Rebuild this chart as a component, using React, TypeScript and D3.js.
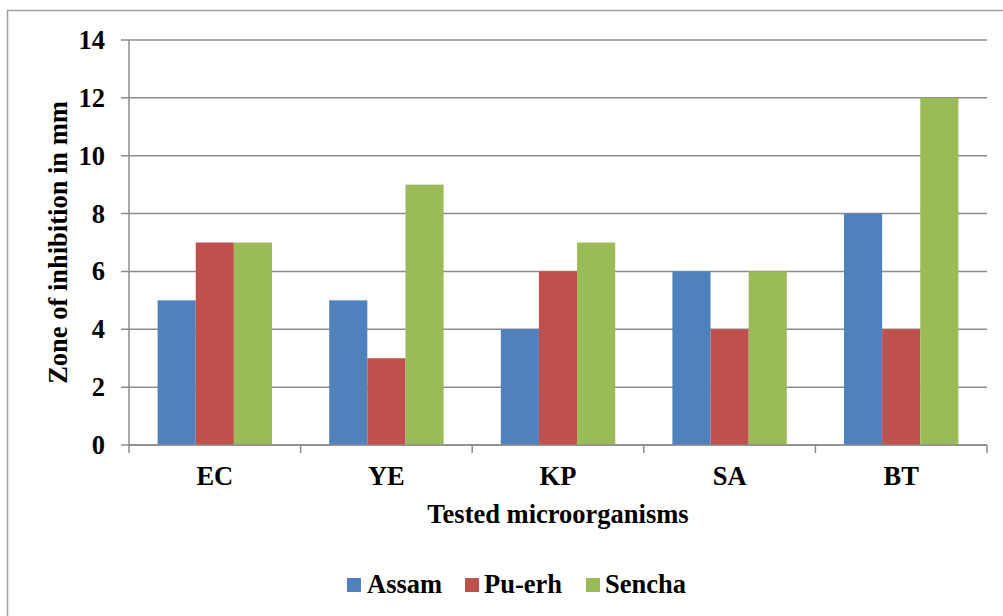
import React from "react";
import * as d3 from "d3";

const categories = ["EC", "YE", "KP", "SA", "BT"];
const seriesNames = ["Assam", "Pu-erh", "Sencha"];
const assam = [5, 5, 4, 6, 8];
const puerh = [7, 3, 6, 4, 4];
const sencha = [7, 9, 7, 6, 12];
const yTicks = [0, 2, 4, 6, 8, 10, 12, 14];
const colors = ["#4F81BD", "#C0504D", "#9BBB59"];

const W = 1003;
const H = 616;
const FONT = "'Liberation Serif', 'Times New Roman', serif";

export default function App() {
  const series = [assam, puerh, sencha];
  const left = 129;
  const right = 987;
  const top = 40;
  const bottom = 445;
  const x = d3.scaleBand<string>().domain(categories).range([left, right]).paddingInner(0).paddingOuter(0);
  const y = d3.scaleLinear().domain([0, 14]).range([bottom, top]);
  const bw = x.bandwidth();
  const barW = bw / (3 + 1.5);
  const gap = (bw - 3 * barW) / 2;

  const legendItems = [
    { name: seriesNames[0], sx: 347, tx: 367 },
    { name: seriesNames[1], sx: 465, tx: 484 },
    { name: seriesNames[2], sx: 586, tx: 605 },
  ];

  const ts = { fontFamily: FONT, fontWeight: 700 as const, fontSize: "26.5px" };

  return (
    <svg width={W} height={H} style={{ position: "absolute", left: 0, top: 0 }}>
      <rect x={0} y={0} width={W} height={H} fill="#fff" />
      <rect x={7.5} y={10.5} width={W + 20} height={H + 20} fill="none" stroke="#a0a0a0" strokeWidth={1.5} />
      {yTicks.map((t) => (
        <g key={t}>
          <line x1={left - 8} x2={right} y1={y(t)} y2={y(t)} stroke="#8c8c8c" strokeWidth={1.5} />
          <text x={105} y={y(t) + 9} textAnchor="end" style={ts} fill="#000">
            {t}
          </text>
        </g>
      ))}
      {categories.map((c, i) => (
        <g key={c}>
          {series.map((s, j) => (
            <rect
              key={j}
              x={(x(c) as number) + gap + j * barW}
              y={y(s[i])}
              width={barW}
              height={y(0) - y(s[i])}
              fill={colors[j]}
            />
          ))}
          <text x={(x(c) as number) + bw / 2} y={485} textAnchor="middle" style={ts} fill="#000">
            {c}
          </text>
        </g>
      ))}
      <line x1={left} x2={left} y1={top} y2={bottom} stroke="#8c8c8c" strokeWidth={1.5} />
      <line x1={left} x2={right} y1={bottom} y2={bottom} stroke="#8c8c8c" strokeWidth={1.5} />
      {d3.range(categories.length + 1).map((k) => {
        const xx = k < categories.length ? (x(categories[k]) as number) : right;
        return <line key={k} x1={xx} x2={xx} y1={bottom} y2={bottom + 8} stroke="#8c8c8c" strokeWidth={1.5} />;
      })}
      <text x={(left + right) / 2} y={523} textAnchor="middle" style={ts} fill="#000">
        Tested microorganisms
      </text>
      <text
        transform={`translate(67, ${(top + bottom) / 2}) rotate(-90)`}
        textAnchor="middle"
        style={ts}
        fill="#000"
      >
        Zone of inhibition in mm
      </text>
      {legendItems.map((it, j) => (
        <g key={it.name}>
          <rect x={it.sx} y={578} width={14} height={14} fill={colors[j]} />
          <text x={it.tx} y={593} style={ts} fill="#000">
            {it.name}
          </text>
        </g>
      ))}
    </svg>
  );
}
